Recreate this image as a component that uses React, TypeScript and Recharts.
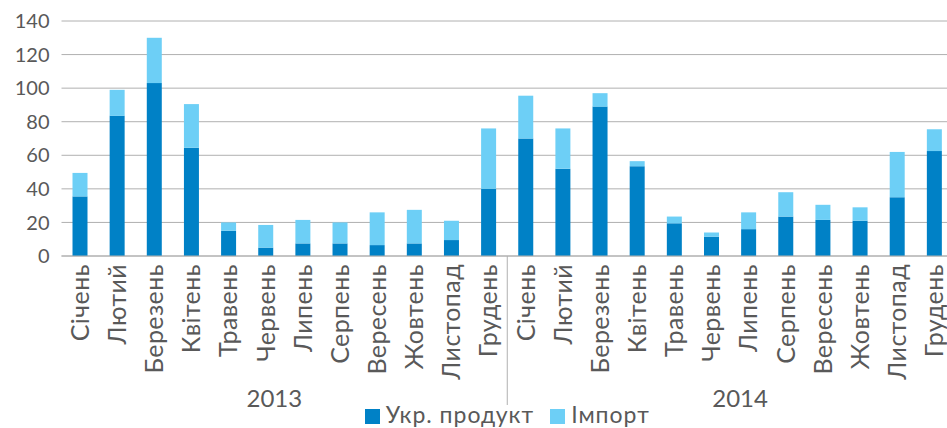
import React from "react";
import { BarChart, Bar, XAxis, YAxis, CartesianGrid, Legend } from "recharts";

const months = [
  "Січень",
  "Лютий",
  "Березень",
  "Квітень",
  "Травень",
  "Червень",
  "Липень",
  "Серпень",
  "Вересень",
  "Жовтень",
  "Листопад",
  "Грудень",
];
const years = ["2013", "2014"];

const ukr2013 = [35.5, 83.5, 103, 64.5, 15, 5, 7.5, 7.5, 6.5, 7.5, 9.5, 40];
const imp2013 = [14, 15.5, 27, 26, 5, 13.5, 14, 12.5, 19.5, 20, 11.5, 36];
const ukr2014 = [70, 52, 89, 53.5, 19.5, 11.5, 16, 23.5, 21.5, 21, 35, 62.5];
const imp2014 = [25.5, 24, 8, 3, 4, 2.5, 10, 14.5, 9, 8, 27, 13];

const yTicks = [0, 20, 40, 60, 80, 100, 120, 140];

const data = [
  ...months.map((m, i) => ({ month: m, year: years[0], ukr: ukr2013[i], imp: imp2013[i] })),
  ...months.map((m, i) => ({ month: m, year: years[1], ukr: ukr2014[i], imp: imp2014[i] })),
];

const DARK = "#0081c6";
const LIGHT = "#6dcff6";
const TEXT = "#595959";
const GRID = "#b0b0b0";
const FONT = "Lato, sans-serif";

const W = 953;
const LEFT = 61.5;
const BAND = (W - LEFT) / data.length;

const MonthTick = (props: any) => {
  const { x, y, payload, index } = props;
  return (
    <g>
      {index === 12 && (
        <line x1={x - BAND / 2} x2={x - BAND / 2} y1={y} y2={y + 149} stroke={GRID} strokeWidth={1} />
      )}
      <text
        transform={`translate(${x},${y + 8}) rotate(-90)`}
        textAnchor="end"
        dy="0.35em"
        fill={TEXT}
        fontSize={25}
        letterSpacing={0.4}
        fontFamily={FONT}
      >
        {payload.value}
      </text>
    </g>
  );
};

// year labels sit a little outward from the group centres, as in the original
const YearTick = (props: any) => {
  const { x, y, payload, index } = props;
  if (index % 12 !== 6) return null;
  const shift = index < 12 ? -10 : 10;
  return (
    <text x={x - BAND / 2 + shift} y={y + 31} textAnchor="middle" fill={TEXT} fontSize={24} fontFamily={FONT}>
      {payload.value}
    </text>
  );
};

const LegendContent = () => (
  <div
    style={{
      height: 24,
      display: "flex",
      justifyContent: "center",
      alignItems: "flex-start",
      fontFamily: FONT,
      fontSize: 23,
      letterSpacing: 1,
      lineHeight: "20px",
      color: TEXT,
      marginTop: -2,
    }}
  >
    <span style={{ width: 15, height: 15, background: DARK, marginRight: 6, marginTop: 5 }} />
    <span style={{ marginRight: 16 }}>Укр. продукт</span>
    <span style={{ width: 15, height: 15, background: LIGHT, marginRight: 6, marginTop: 5 }} />
    <span>Імпорт</span>
  </div>
);

export default function App() {
  return (
    <div style={{ position: "absolute", left: 0, top: 0, width: 947, height: 428, overflow: "hidden", background: "#fff" }}>
      <BarChart width={W} height={428} data={data} margin={{ top: 21, right: 0, left: 0, bottom: 0 }}>
        <CartesianGrid vertical={false} stroke={GRID} />
        <XAxis
          xAxisId="m"
          dataKey="month"
          interval={0}
          height={120}
          tickSize={0}
          tickMargin={0}
          tickLine={false}
          axisLine={{ stroke: GRID }}
          tick={<MonthTick />}
        />
        <XAxis
          xAxisId="y"
          dataKey="year"
          interval={0}
          height={30}
          tickSize={0}
          tickMargin={0}
          tickLine={false}
          axisLine={false}
          tick={<YearTick />}
        />
        <YAxis
          width={LEFT}
          domain={[0, 140]}
          ticks={yTicks}
          axisLine={false}
          tickLine={false}
          tickMargin={6}
          tick={{ fill: TEXT, fontSize: 20, fontFamily: FONT }}
        />
        <Legend
          verticalAlign="bottom"
          content={<LegendContent />}
          wrapperStyle={{ left: LEFT, width: W - LEFT }}
        />
        <Bar xAxisId="m" dataKey="ukr" stackId="a" fill={DARK} barSize={15} isAnimationActive={false} />
        <Bar xAxisId="m" dataKey="imp" stackId="a" fill={LIGHT} barSize={15} isAnimationActive={false} />
      </BarChart>
    </div>
  );
}
